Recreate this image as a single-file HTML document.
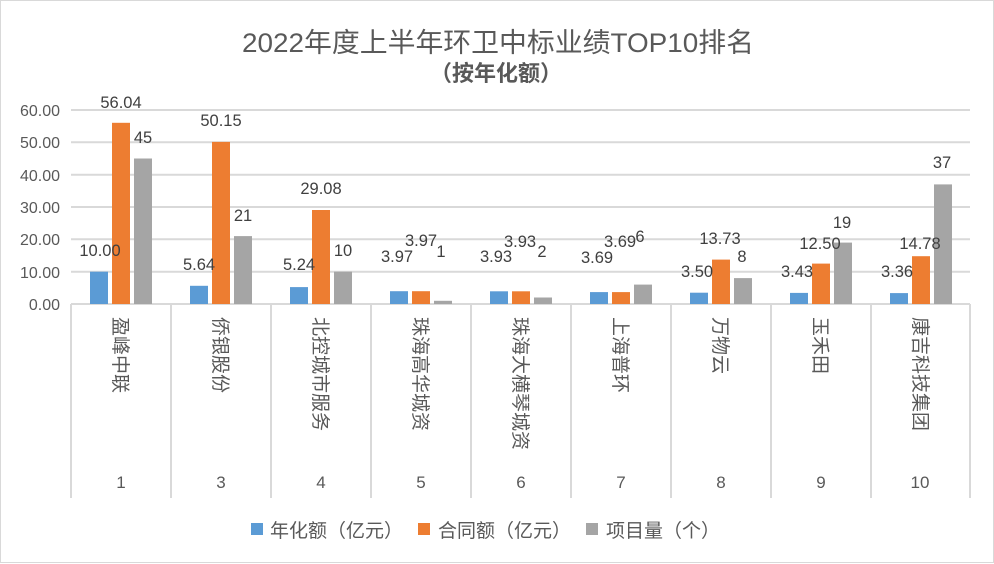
<!DOCTYPE html>
<html><head><meta charset="utf-8"><style>
html,body{margin:0;padding:0;background:#fff;}
svg{display:block;font-family:"Liberation Sans","Noto Sans CJK SC",sans-serif;}
</style></head><body>
<svg width="994" height="564" viewBox="0 0 994 564" xmlns="http://www.w3.org/2000/svg">
<rect x="0.5" y="0.5" width="993" height="562" fill="#fff" stroke="#d9d9d9"/>
<text x="498" y="52" text-anchor="middle" font-size="27" fill="#595959" textLength="512" lengthAdjust="spacingAndGlyphs">2022年度上半年环卫中标业绩TOP10排名</text>
<text x="496" y="81" text-anchor="middle" font-size="22" font-weight="bold" fill="#595959">（按年化额）</text>
<g stroke="#d9d9d9" stroke-width="2">
<line x1="71" x2="970" y1="110" y2="110"/>
<line x1="71" x2="970" y1="142.3" y2="142.3"/>
<line x1="71" x2="970" y1="174.7" y2="174.7"/>
<line x1="71" x2="970" y1="207" y2="207"/>
<line x1="71" x2="970" y1="239.3" y2="239.3"/>
<line x1="71" x2="970" y1="271.7" y2="271.7"/>
<line x1="71" x2="970" y1="304" y2="304"/>
<line x1="71" x2="71" y1="304" y2="498"/>
<line x1="171" x2="171" y1="304" y2="498"/>
<line x1="271" x2="271" y1="304" y2="498"/>
<line x1="371" x2="371" y1="304" y2="498"/>
<line x1="471" x2="471" y1="304" y2="498"/>
<line x1="571" x2="571" y1="304" y2="498"/>
<line x1="671" x2="671" y1="304" y2="498"/>
<line x1="771" x2="771" y1="304" y2="498"/>
<line x1="871" x2="871" y1="304" y2="498"/>
<line x1="970" x2="970" y1="304" y2="498"/>
</g>
<g font-size="16" fill="#595959" text-anchor="end">
<text x="60" y="116">60.00</text><text x="60" y="148">50.00</text><text x="60" y="181">40.00</text>
<text x="60" y="213">30.00</text><text x="60" y="245">20.00</text><text x="60" y="278">10.00</text><text x="60" y="310">0.00</text>
</g>
<g>
<rect x="90" y="271.7" width="18" height="32.3" fill="#5b9bd5"/><rect x="112" y="122.8" width="18" height="181.2" fill="#ed7d31"/><rect x="134" y="158.5" width="18" height="145.5" fill="#a5a5a5"/>
<rect x="190" y="285.8" width="18" height="18.2" fill="#5b9bd5"/><rect x="212" y="141.9" width="18" height="162.1" fill="#ed7d31"/><rect x="234" y="236.1" width="18" height="67.9" fill="#a5a5a5"/>
<rect x="290" y="287.1" width="18" height="16.9" fill="#5b9bd5"/><rect x="312" y="210" width="18" height="94" fill="#ed7d31"/><rect x="334" y="271.7" width="18" height="32.3" fill="#a5a5a5"/>
<rect x="390" y="291.2" width="18" height="12.8" fill="#5b9bd5"/><rect x="412" y="291.2" width="18" height="12.8" fill="#ed7d31"/><rect x="434" y="300.8" width="18" height="3.2" fill="#a5a5a5"/>
<rect x="490" y="291.3" width="18" height="12.7" fill="#5b9bd5"/><rect x="512" y="291.3" width="18" height="12.7" fill="#ed7d31"/><rect x="534" y="297.5" width="18" height="6.5" fill="#a5a5a5"/>
<rect x="590" y="292.1" width="18" height="11.9" fill="#5b9bd5"/><rect x="612" y="292.1" width="18" height="11.9" fill="#ed7d31"/><rect x="634" y="284.6" width="18" height="19.4" fill="#a5a5a5"/>
<rect x="690" y="292.7" width="18" height="11.3" fill="#5b9bd5"/><rect x="712" y="259.6" width="18" height="44.4" fill="#ed7d31"/><rect x="734" y="278.1" width="18" height="25.9" fill="#a5a5a5"/>
<rect x="790" y="292.9" width="18" height="11.1" fill="#5b9bd5"/><rect x="812" y="263.6" width="18" height="40.4" fill="#ed7d31"/><rect x="834" y="242.6" width="18" height="61.4" fill="#a5a5a5"/>
<rect x="890" y="293.1" width="18" height="10.9" fill="#5b9bd5"/><rect x="912" y="256.2" width="18" height="47.8" fill="#ed7d31"/><rect x="934" y="184.4" width="18" height="119.6" fill="#a5a5a5"/>
</g>
<g font-size="16.5" fill="#404040" text-anchor="middle">
<text x="100" y="256">10.00</text><text x="121" y="108">56.04</text><text x="143" y="143">45</text>
<text x="199" y="270">5.64</text><text x="221" y="126">50.15</text><text x="243" y="221">21</text>
<text x="299" y="270">5.24</text><text x="321" y="194">29.08</text><text x="343" y="256">10</text>
<text x="397" y="262">3.97</text><text x="421" y="246">3.97</text><text x="441" y="257">1</text>
<text x="496" y="262">3.93</text><text x="520" y="247">3.93</text><text x="542" y="257">2</text>
<text x="597" y="263">3.69</text><text x="620" y="247">3.69</text><text x="640" y="242">6</text>
<text x="697" y="277">3.50</text><text x="720" y="244">13.73</text><text x="742" y="262">8</text>
<text x="797" y="277">3.43</text><text x="820" y="249">12.50</text><text x="842" y="228">19</text>
<text x="897" y="277">3.36</text><text x="920" y="249">14.78</text><text x="942" y="168">37</text>
</g>
<g font-size="19" fill="#595959">
<text transform="translate(114,317) rotate(90)">盈峰中联</text>
<text transform="translate(214,317) rotate(90)">侨银股份</text>
<text transform="translate(314,317) rotate(90)">北控城市服务</text>
<text transform="translate(414,317) rotate(90)">珠海高华城资</text>
<text transform="translate(514,317) rotate(90)">珠海大横琴城资</text>
<text transform="translate(614,317) rotate(90)">上海普环</text>
<text transform="translate(714,317) rotate(90)">万物云</text>
<text transform="translate(814,317) rotate(90)">玉禾田</text>
<text transform="translate(914,317) rotate(90)">康吉科技集团</text>
</g>
<g font-size="17" fill="#595959" text-anchor="middle">
<text x="121" y="488">1</text><text x="221" y="488">3</text><text x="321" y="488">4</text>
<text x="421" y="488">5</text><text x="521" y="488">6</text><text x="621" y="488">7</text>
<text x="721" y="488">8</text><text x="821" y="488">9</text><text x="920" y="488">10</text>
</g>
<g font-size="19" fill="#595959">
<rect x="251" y="523" width="12" height="12" fill="#5b9bd5"/><text x="270" y="537">年化额（亿元）</text>
<rect x="418" y="523" width="12" height="12" fill="#ed7d31"/><text x="438" y="537">合同额（亿元）</text>
<rect x="586" y="523" width="12" height="12" fill="#a5a5a5"/><text x="606" y="537">项目量（个）</text>
</g>
</svg>
</body></html>
